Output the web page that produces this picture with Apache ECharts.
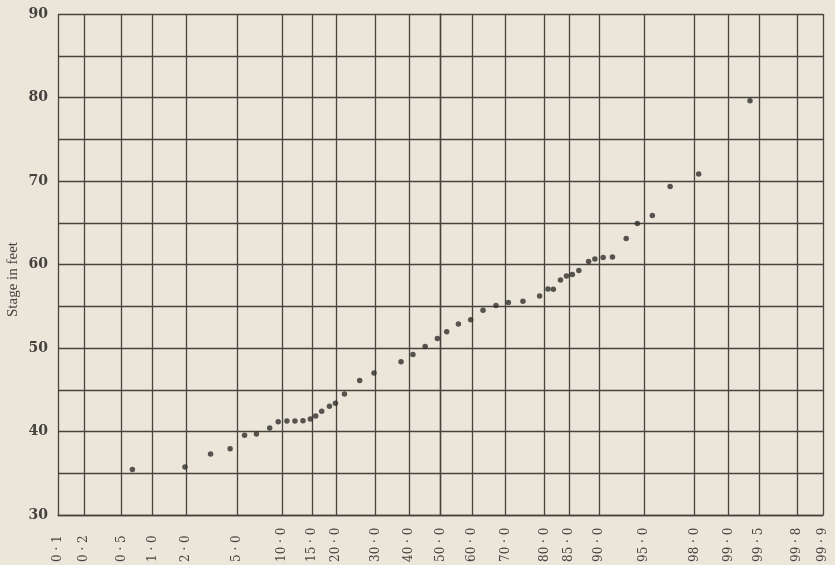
<!DOCTYPE html>
<html>
<head>
<meta charset="utf-8">
<title>Stage in feet</title>
<script src="https://cdn.jsdelivr.net/npm/echarts@6/dist/echarts.min.js"></script>
<style>
	html, body { margin: 0; padding: 0; background: #ebe6d9; }
	#main { width: 835px; height: 565px; }
</style>
</head>
<body>
<div id="main"></div>
<script>
// probability scale ticks (percent) and their printed labels
var tickPercents = [0.1, 0.2, 0.5, 1, 2, 5, 10, 15, 20, 30, 40, 50, 60, 70, 80, 85, 90, 95, 98, 99, 99.5, 99.8, 99.9];
var tickLabels = ['0·1', '0·2', '0·5', '1·0', '2·0', '5·0', '10·0', '15·0', '20·0', '30·0', '40·0', '50·0',
	'60·0', '70·0', '80·0', '85·0', '90·0', '95·0', '98·0', '99·0', '99·5', '99·8', '99·9'];

// observed points: percent of time, stage in feet
var percents = [0.64, 1.95, 3.16, 4.46, 5.67, 6.85, 8.38, 9.49, 10.73, 11.98, 13.33, 14.66, 15.67, 16.86,
	18.48, 19.80, 21.89, 25.69, 29.56, 37.49, 41.18, 45.07, 49.00, 51.99, 55.75, 59.63, 63.44, 67.30,
	70.83, 74.73, 78.84, 80.74, 81.90, 83.38, 84.55, 85.66, 86.82, 88.43, 89.38, 90.56, 91.76, 93.32,
	94.41, 95.65, 96.82, 98.15, 99.38];
var stages = [35.44, 35.74, 37.32, 37.92, 39.55, 39.71, 40.41, 41.18, 41.27, 41.27, 41.30, 41.51, 41.87, 42.42,
	43.01, 43.37, 44.50, 46.12, 47.01, 48.34, 49.23, 50.19, 51.15, 51.95, 52.87, 53.39, 54.52, 55.10,
	55.45, 55.60, 56.23, 57.06, 57.03, 58.13, 58.62, 58.80, 59.28, 60.35, 60.65, 60.83, 60.90, 63.11,
	64.90, 65.86, 69.33, 70.85, 79.62];

var stageChart = {
	// inverse normal cdf (Acklam), turns percent into the probability-paper axis unit
	probit : function(pct) {
		var p = pct / 100;
		var a = [-3.969683028665376e+01, 2.209460984245205e+02, -2.759285104469687e+02, 1.383577518672690e+02, -3.066479806614716e+01, 2.506628277459239e+00];
		var b = [-5.447609879822406e+01, 1.615858368580409e+02, -1.556989798598866e+02, 6.680131188771972e+01, -1.328068155288572e+01];
		var c = [-7.784894002430293e-03, -3.223964580411365e-01, -2.400758277161838e+00, -2.549732539343734e+00, 4.374664141464968e+00, 2.938163982698783e+00];
		var d = [7.784695709041462e-03, 3.224671290700398e-01, 2.445134137142996e+00, 3.754408661907416e+00];
		var q, r;
		if (p < 0.02425) {
			q = Math.sqrt(-2 * Math.log(p));
			return (((((c[0] * q + c[1]) * q + c[2]) * q + c[3]) * q + c[4]) * q + c[5]) /
				((((d[0] * q + d[1]) * q + d[2]) * q + d[3]) * q + 1);
		}
		if (p > 1 - 0.02425) {
			q = Math.sqrt(-2 * Math.log(1 - p));
			return -(((((c[0] * q + c[1]) * q + c[2]) * q + c[3]) * q + c[4]) * q + c[5]) /
				((((d[0] * q + d[1]) * q + d[2]) * q + d[3]) * q + 1);
		}
		q = p - 0.5;
		r = q * q;
		return (((((a[0] * r + a[1]) * r + a[2]) * r + a[3]) * r + a[4]) * r + a[5]) * q /
			(((((b[0] * r + b[1]) * r + b[2]) * r + b[3]) * r + b[4]) * r + 1);
	},
	show : function() {
		var self = this;
		var myChart = echarts.init(document.getElementById('main'));
		var tickZ = tickPercents.map(function(v) { return self.probit(v); });
		var points = [];
		for (var i = 0; i < percents.length; i++) {
			points.push([self.probit(percents[i]), stages[i]]);
		}
		var gridColor = '#46443f';
		var textColor = '#45433f';
		var option = {
			backgroundColor : '#ebe6d9',
			animation : false,
			grid : {
				left : 58,
				right : 12,
				top : 14,
				bottom : 50,
				outerBoundsMode : 'none'
			},
			xAxis : {
				type : 'value',
				min : tickZ[0],
				max : tickZ[tickZ.length - 1],
				axisLine : { show : true, lineStyle : { color : gridColor, width : 1.4 } },
				axisTick : { show : false, customValues : tickZ },
				splitLine : { show : true, lineStyle : { color : gridColor, width : 1.3 } },
				axisLabel : {
					customValues : tickZ,
					rotate : 90,
					align : 'left',
					margin : 47,
					color : textColor,
					fontFamily : 'DejaVu Serif',
					fontSize : 12,
					formatter : function(value) {
						// nearest tick gives the printed label
						var best = 0;
						for (var k = 1; k < tickZ.length; k++) {
							if (Math.abs(tickZ[k] - value) < Math.abs(tickZ[best] - value)) best = k;
						}
						return tickLabels[best].replace('·', ' · ');
					}
				}
			},
			yAxis : {
				type : 'value',
				min : 30,
				max : 90,
				interval : 5,
				name : 'Stage in feet',
				nameLocation : 'middle',
				nameGap : 37,
				nameMoveOverlap : false,
				nameTextStyle : {
					color : textColor,
					fontFamily : 'Liberation Serif',
					fontSize : 15,
					padding : [0, 30, 0, 0]
				},
				axisLine : { show : true, lineStyle : { color : gridColor, width : 1.4 } },
				axisTick : { show : false },
				splitLine : { show : true, lineStyle : { color : gridColor, width : 1.3 } },
				axisLabel : {
					margin : 10,
					color : textColor,
					fontFamily : 'DejaVu Serif',
					fontWeight : 'bold',
					fontSize : 14,
					formatter : function(value) {
						return value % 10 === 0 ? String(value) : '';
					}
				}
			},
			series : [ {
				type : 'scatter',
				data : points,
				symbol : 'circle',
				symbolSize : 5.5,
				itemStyle : { color : '#2f2e2b' }
			} ]
		};
		myChart.setOption(option);
	}
};
stageChart.show();
</script>
</body>
</html>
